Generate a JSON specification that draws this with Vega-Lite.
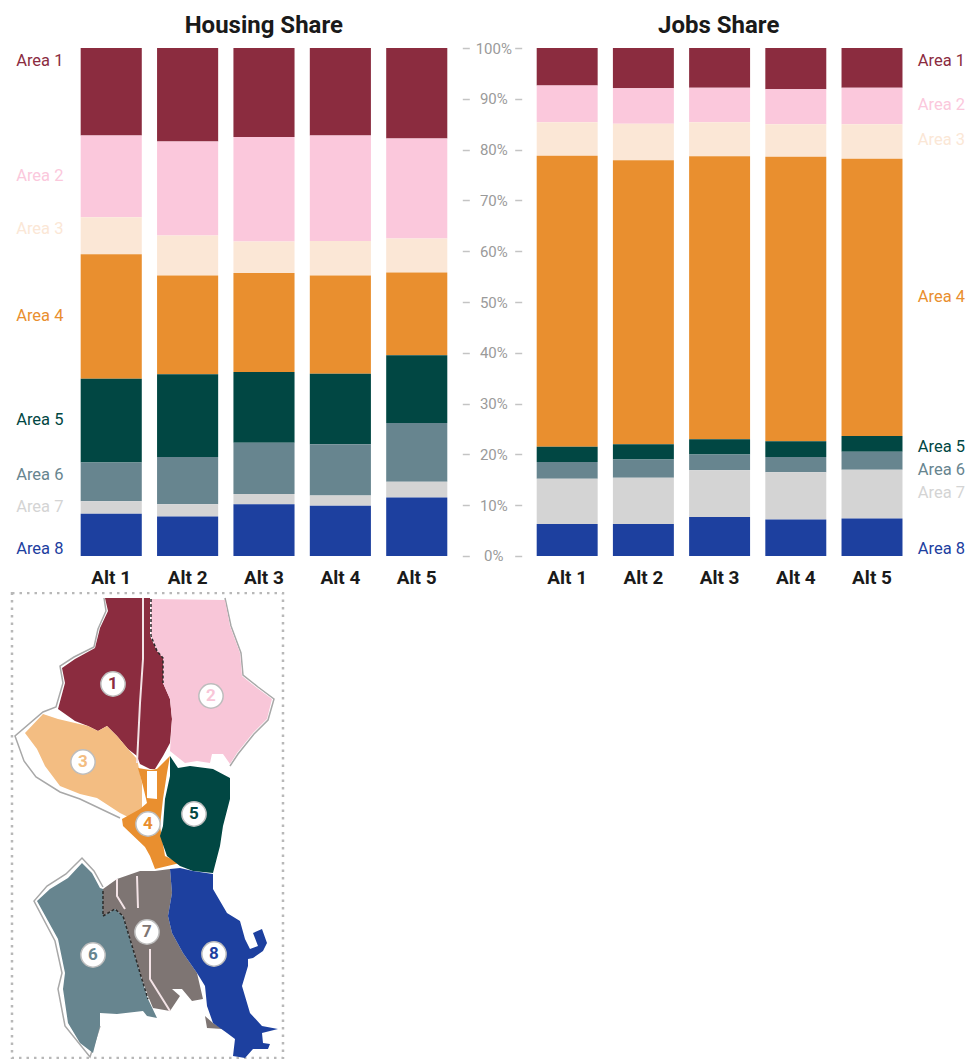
{
  "$schema": "https://vega.github.io/schema/vega-lite/v6.json",
  "background": "white",
  "padding": {"left": 4.3, "top": 13, "right": 0, "bottom": 0},
  "config": {
    "view": {"stroke": null},
    "font": "Roboto",
    "title": {"font": "Roboto", "fontSize": 24, "fontWeight": "bold", "color": "#1a1a1a"}
  },
  "datasets": {
    "housing": [
      {"alt": "Alt 1", "area": "Area 1", "share": 17.2}, {"alt": "Alt 1", "area": "Area 2", "share": 16.1}, {"alt": "Alt 1", "area": "Area 3", "share": 7.3}, {"alt": "Alt 1", "area": "Area 4", "share": 24.5}, {"alt": "Alt 1", "area": "Area 5", "share": 16.5}, {"alt": "Alt 1", "area": "Area 6", "share": 7.6}, {"alt": "Alt 1", "area": "Area 7", "share": 2.5}, {"alt": "Alt 1", "area": "Area 8", "share": 8.3},
      {"alt": "Alt 2", "area": "Area 1", "share": 18.4}, {"alt": "Alt 2", "area": "Area 2", "share": 18.5}, {"alt": "Alt 2", "area": "Area 3", "share": 7.9}, {"alt": "Alt 2", "area": "Area 4", "share": 19.4}, {"alt": "Alt 2", "area": "Area 5", "share": 16.3}, {"alt": "Alt 2", "area": "Area 6", "share": 9.3}, {"alt": "Alt 2", "area": "Area 7", "share": 2.4}, {"alt": "Alt 2", "area": "Area 8", "share": 7.8},
      {"alt": "Alt 3", "area": "Area 1", "share": 17.5}, {"alt": "Alt 3", "area": "Area 2", "share": 20.6}, {"alt": "Alt 3", "area": "Area 3", "share": 6.2}, {"alt": "Alt 3", "area": "Area 4", "share": 19.5}, {"alt": "Alt 3", "area": "Area 5", "share": 13.9}, {"alt": "Alt 3", "area": "Area 6", "share": 10.1}, {"alt": "Alt 3", "area": "Area 7", "share": 2.0}, {"alt": "Alt 3", "area": "Area 8", "share": 10.2},
      {"alt": "Alt 4", "area": "Area 1", "share": 17.2}, {"alt": "Alt 4", "area": "Area 2", "share": 20.8}, {"alt": "Alt 4", "area": "Area 3", "share": 6.8}, {"alt": "Alt 4", "area": "Area 4", "share": 19.3}, {"alt": "Alt 4", "area": "Area 5", "share": 13.9}, {"alt": "Alt 4", "area": "Area 6", "share": 10.1}, {"alt": "Alt 4", "area": "Area 7", "share": 2.0}, {"alt": "Alt 4", "area": "Area 8", "share": 9.9},
      {"alt": "Alt 5", "area": "Area 1", "share": 17.8}, {"alt": "Alt 5", "area": "Area 2", "share": 19.7}, {"alt": "Alt 5", "area": "Area 3", "share": 6.7}, {"alt": "Alt 5", "area": "Area 4", "share": 16.3}, {"alt": "Alt 5", "area": "Area 5", "share": 13.3}, {"alt": "Alt 5", "area": "Area 6", "share": 11.6}, {"alt": "Alt 5", "area": "Area 7", "share": 3.1}, {"alt": "Alt 5", "area": "Area 8", "share": 11.5}
    ],
    "jobs": [
      {"alt": "Alt 1", "area": "Area 1", "share": 7.4}, {"alt": "Alt 1", "area": "Area 2", "share": 7.2}, {"alt": "Alt 1", "area": "Area 3", "share": 6.6}, {"alt": "Alt 1", "area": "Area 4", "share": 57.3}, {"alt": "Alt 1", "area": "Area 5", "share": 3.0}, {"alt": "Alt 1", "area": "Area 6", "share": 3.3}, {"alt": "Alt 1", "area": "Area 7", "share": 8.9}, {"alt": "Alt 1", "area": "Area 8", "share": 6.3},
      {"alt": "Alt 2", "area": "Area 1", "share": 7.9}, {"alt": "Alt 2", "area": "Area 2", "share": 7.0}, {"alt": "Alt 2", "area": "Area 3", "share": 7.2}, {"alt": "Alt 2", "area": "Area 4", "share": 55.9}, {"alt": "Alt 2", "area": "Area 5", "share": 3.0}, {"alt": "Alt 2", "area": "Area 6", "share": 3.6}, {"alt": "Alt 2", "area": "Area 7", "share": 9.1}, {"alt": "Alt 2", "area": "Area 8", "share": 6.3},
      {"alt": "Alt 3", "area": "Area 1", "share": 7.8}, {"alt": "Alt 3", "area": "Area 2", "share": 6.8}, {"alt": "Alt 3", "area": "Area 3", "share": 6.7}, {"alt": "Alt 3", "area": "Area 4", "share": 55.7}, {"alt": "Alt 3", "area": "Area 5", "share": 3.0}, {"alt": "Alt 3", "area": "Area 6", "share": 3.1}, {"alt": "Alt 3", "area": "Area 7", "share": 9.2}, {"alt": "Alt 3", "area": "Area 8", "share": 7.7},
      {"alt": "Alt 4", "area": "Area 1", "share": 8.1}, {"alt": "Alt 4", "area": "Area 2", "share": 6.9}, {"alt": "Alt 4", "area": "Area 3", "share": 6.4}, {"alt": "Alt 4", "area": "Area 4", "share": 56.0}, {"alt": "Alt 4", "area": "Area 5", "share": 3.1}, {"alt": "Alt 4", "area": "Area 6", "share": 3.0}, {"alt": "Alt 4", "area": "Area 7", "share": 9.3}, {"alt": "Alt 4", "area": "Area 8", "share": 7.2},
      {"alt": "Alt 5", "area": "Area 1", "share": 7.8}, {"alt": "Alt 5", "area": "Area 2", "share": 7.2}, {"alt": "Alt 5", "area": "Area 3", "share": 6.8}, {"alt": "Alt 5", "area": "Area 4", "share": 54.6}, {"alt": "Alt 5", "area": "Area 5", "share": 3.1}, {"alt": "Alt 5", "area": "Area 6", "share": 3.5}, {"alt": "Alt 5", "area": "Area 7", "share": 9.6}, {"alt": "Alt 5", "area": "Area 8", "share": 7.4}
    ],
    "housingLabels": [
      {"slot": "Labels", "area": "Area 1", "level": 97.4}, {"slot": "Labels", "area": "Area 2", "level": 74.9}, {"slot": "Labels", "area": "Area 3", "level": 64.3}, {"slot": "Labels", "area": "Area 4", "level": 47.2}, {"slot": "Labels", "area": "Area 5", "level": 26.7}, {"slot": "Labels", "area": "Area 6", "level": 15.9}, {"slot": "Labels", "area": "Area 7", "level": 9.6}, {"slot": "Labels", "area": "Area 8", "level": 1.3}
    ],
    "jobsLabels": [
      {"slot": "Labels", "area": "Area 1", "level": 97.4}, {"slot": "Labels", "area": "Area 2", "level": 88.7}, {"slot": "Labels", "area": "Area 3", "level": 81.8}, {"slot": "Labels", "area": "Area 4", "level": 50.9}, {"slot": "Labels", "area": "Area 5", "level": 21.4}, {"slot": "Labels", "area": "Area 6", "level": 16.9}, {"slot": "Labels", "area": "Area 7", "level": 12.4}, {"slot": "Labels", "area": "Area 8", "level": 1.3}
    ],
    "frame": [
      {"type": "Feature", "region": "Frame", "geometry": {"type": "Polygon", "coordinates": [[[12, 592], [283, 592], [283, 1057], [12, 1057], [12, 592]]]}}
    ],
    "coast": [
      {"type": "Feature", "region": "North and west shore", "geometry": {"type": "LineString", "coordinates": [[104, 597], [106, 610], [98, 628], [94, 646], [74, 656], [60, 665], [63, 682], [56, 706], [43, 711], [15, 735], [24, 760], [36, 776], [60, 791], [80, 798], [120, 817]]}},
      {"type": "Feature", "region": "Southwest shore", "geometry": {"type": "LineString", "coordinates": [[103, 886], [94, 870], [82, 857], [66, 873], [47, 885], [34, 900], [55, 940], [62, 972], [58, 988], [65, 1025], [90, 1056], [100, 1025]]}},
      {"type": "Feature", "region": "East shore", "geometry": {"type": "LineString", "coordinates": [[225, 597], [231, 625], [241, 652], [243, 674], [258, 686], [274, 698], [268, 719], [254, 733], [238, 753], [230, 765]]}}
    ],
    "districts": [
      {"type": "Feature", "region": "Area 1", "geometry": {"type": "Polygon", "coordinates": [[[105, 597], [150, 597], [150, 635], [157, 650], [163, 657], [163, 682], [170, 698], [172, 718], [170, 742], [163, 755], [155, 768], [150, 768], [140, 763], [137, 755], [128, 748], [117, 735], [107, 725], [98, 730], [88, 725], [75, 720], [58, 708], [65, 682], [62, 667], [75, 658], [95, 647], [100, 627], [108, 610], [105, 597]]]}},
      {"type": "Feature", "region": "Area 2", "geometry": {"type": "Polygon", "coordinates": [[[151, 598], [225, 599], [230, 625], [240, 652], [242, 675], [257, 687], [272, 698], [267, 718], [253, 732], [237, 752], [230, 763], [223, 753], [212, 753], [210, 762], [197, 760], [185, 762], [170, 750], [172, 718], [170, 698], [163, 682], [163, 657], [157, 650], [151, 635], [151, 598]]]}},
      {"type": "Feature", "region": "Area 3", "geometry": {"type": "Polygon", "coordinates": [[[25, 732], [43, 713], [58, 718], [75, 722], [88, 725], [98, 730], [107, 725], [117, 735], [128, 748], [137, 758], [142, 782], [142, 808], [130, 817], [120, 812], [97, 797], [80, 793], [60, 785], [45, 765], [37, 748], [25, 732]]]}},
      {"type": "Feature", "region": "Area 4", "geometry": {"type": "Polygon", "coordinates": [[[138, 767], [150, 769], [157, 768], [170, 755], [167, 772], [163, 798], [160, 825], [165, 855], [180, 862], [155, 868], [150, 855], [145, 846], [123, 825], [122, 818], [140, 808], [147, 802], [143, 785], [138, 767]]]}},
      {"type": "Feature", "region": "Inlet", "geometry": {"type": "Polygon", "coordinates": [[[147, 770], [157, 770], [157, 798], [147, 797], [147, 770]]]}},
      {"type": "Feature", "region": "Area 5", "geometry": {"type": "Polygon", "coordinates": [[[170, 755], [178, 767], [190, 765], [213, 768], [230, 777], [230, 798], [223, 825], [220, 845], [213, 872], [193, 870], [180, 865], [167, 855], [160, 835], [163, 825], [165, 798], [170, 775], [170, 755]]]}},
      {"type": "Feature", "region": "Area 7", "geometry": {"type": "MultiPolygon", "coordinates": [[[[103, 888], [117, 878], [140, 870], [155, 870], [170, 868], [172, 892], [168, 915], [172, 932], [183, 952], [197, 972], [203, 998], [192, 1000], [182, 988], [172, 988], [180, 995], [170, 1010], [153, 1007], [148, 995], [140, 972], [133, 948], [123, 915], [115, 908], [103, 915], [103, 888]]], [[[205, 1015], [207, 1027], [223, 1028], [213, 1022], [205, 1015]]]]}},
      {"type": "Feature", "region": "Area 6", "geometry": {"type": "Polygon", "coordinates": [[[82, 862], [92, 872], [100, 887], [103, 888], [103, 915], [115, 908], [123, 915], [133, 948], [140, 972], [148, 998], [157, 1017], [147, 1015], [143, 1010], [117, 1013], [100, 1012], [100, 1025], [93, 1052], [80, 1042], [68, 1022], [63, 988], [65, 972], [58, 938], [37, 900], [50, 888], [68, 877], [82, 862]]]}},
      {"type": "Feature", "region": "Area 8", "geometry": {"type": "Polygon", "coordinates": [[[170, 868], [180, 867], [193, 870], [213, 873], [213, 888], [227, 912], [240, 920], [245, 938], [250, 948], [258, 945], [253, 932], [262, 928], [267, 942], [263, 950], [253, 957], [248, 958], [248, 965], [242, 985], [250, 1012], [262, 1025], [278, 1028], [262, 1032], [263, 1042], [270, 1043], [268, 1048], [253, 1048], [245, 1057], [233, 1055], [235, 1038], [227, 1032], [213, 1022], [207, 1005], [205, 985], [197, 972], [183, 952], [172, 932], [168, 915], [172, 892], [170, 868]]]}}
    ],
    "roads": [
      {"type": "Feature", "region": "Highway north", "geometry": {"type": "LineString", "coordinates": [[143, 597], [143, 658], [140, 702], [137, 762]]}},
      {"type": "Feature", "region": "Highway south", "geometry": {"type": "LineString", "coordinates": [[150, 948], [150, 978], [170, 1010]]}},
      {"type": "Feature", "region": "Road west", "geometry": {"type": "LineString", "coordinates": [[117, 878], [117, 895], [125, 908]]}},
      {"type": "Feature", "region": "Road central", "geometry": {"type": "LineString", "coordinates": [[137, 875], [138, 907]]}}
    ],
    "boundaries": [
      {"type": "Feature", "region": "Area 6 and 7 line", "geometry": {"type": "LineString", "coordinates": [[103, 890], [103, 915], [115, 908], [123, 915], [133, 948], [140, 972], [148, 998]]}},
      {"type": "Feature", "region": "Area 1 and 2 line", "geometry": {"type": "LineString", "coordinates": [[151, 598], [151, 635], [157, 650], [163, 657], [163, 682]]}}
    ],
    "markers": [
      {"region": "Area 1", "digit": "1", "east": 113, "south": 683},
      {"region": "Area 2", "digit": "2", "east": 211, "south": 695},
      {"region": "Area 3", "digit": "3", "east": 83, "south": 761},
      {"region": "Area 4", "digit": "4", "east": 148, "south": 823},
      {"region": "Area 5", "digit": "5", "east": 194, "south": 813},
      {"region": "Area 6", "digit": "6", "east": 93, "south": 954},
      {"region": "Area 7", "digit": "7", "east": 147, "south": 931},
      {"region": "Area 8", "digit": "8", "east": 214, "south": 953}
    ]
  },
  "vconcat": [
    {
      "hconcat": [
        {
          "title": {"text": "Housing Share", "dx": 38, "offset": 3.5},
          "width": 443,
          "height": 508,
          "layer": [
            {
              "data": {"name": "housing"},
              "mark": {"type": "bar"},
              "encoding": {
                "x": {
                  "field": "alt", "type": "nominal",
                  "scale": {"domain": ["Labels", "Alt 1", "Alt 2", "Alt 3", "Alt 4", "Alt 5"], "paddingInner": 0.2, "paddingOuter": 0},
                  "axis": {"title": null, "values": ["Alt 1", "Alt 2", "Alt 3", "Alt 4", "Alt 5"], "domain": false, "ticks": false, "labelAngle": 0, "labelFontSize": 19, "labelFontWeight": "bold", "labelColor": "#1a1a1a", "labelPadding": 13}
                },
                "y": {
                  "field": "share", "type": "quantitative", "stack": "zero",
                  "scale": {"domain": [0, 100], "nice": false},
                  "axis": {"orient": "right", "title": null, "offset": 15, "domain": false, "grid": false, "values": [0, 10, 20, 30, 40, 50, 60, 70, 80, 90, 100], "tickSize": 7, "tickColor": "#c4c4c4", "tickWidth": 1.5, "labelExpr": "datum.value + '%'", "labelColor": "#9a9a9a", "labelFontSize": 15, "labelAlign": "center", "labelPadding": 24, "labelBaseline": "middle"}
                },
                "order": {"field": "area", "sort": "descending"},
                "color": {
                  "field": "area", "type": "nominal", "legend": null,
                  "scale": {"domain": ["Area 1", "Area 2", "Area 3", "Area 4", "Area 5", "Area 6", "Area 7", "Area 8"], "range": ["#8b2c3f", "#fbc8dc", "#fbe7d6", "#e98f2f", "#014743", "#67858f", "#d4d4d4", "#1d409f"]}
                }
              }
            },
            {
              "data": {"name": "housingLabels"},
              "mark": {"type": "text", "align": "right", "baseline": "middle", "dx": -2, "fontSize": 16.5},
              "encoding": {
                "x": {"field": "slot", "type": "nominal", "bandPosition": 1},
                "y": {"field": "level", "type": "quantitative", "stack": null},
                "text": {"field": "area"},
                "color": {"field": "area", "type": "nominal", "legend": null}
              }
            }
          ]
        },
        {
          "title": {"text": "Jobs Share", "dx": -36, "offset": 9.5},
          "width": 436,
          "height": 508,
          "layer": [
            {
              "data": {"name": "jobs"},
              "mark": {"type": "bar"},
              "encoding": {
                "x": {
                  "field": "alt", "type": "nominal",
                  "scale": {"domain": ["Alt 1", "Alt 2", "Alt 3", "Alt 4", "Alt 5", "Labels"], "paddingInner": 0.2, "paddingOuter": 0, "range": [0, 442]},
                  "axis": {"title": null, "values": ["Alt 1", "Alt 2", "Alt 3", "Alt 4", "Alt 5"], "domain": false, "ticks": false, "labelAngle": 0, "labelFontSize": 19, "labelFontWeight": "bold", "labelColor": "#1a1a1a", "labelPadding": 13}
                },
                "y": {
                  "field": "share", "type": "quantitative", "stack": "zero",
                  "scale": {"domain": [0, 100], "nice": false},
                  "axis": {"orient": "left", "title": null, "offset": 15, "domain": false, "grid": false, "labels": false, "values": [0, 10, 20, 30, 40, 50, 60, 70, 80, 90, 100], "tickSize": 7, "tickColor": "#c4c4c4", "tickWidth": 1.5}
                },
                "order": {"field": "area", "sort": "descending"},
                "color": {
                  "field": "area", "type": "nominal", "legend": null,
                  "scale": {"domain": ["Area 1", "Area 2", "Area 3", "Area 4", "Area 5", "Area 6", "Area 7", "Area 8"], "range": ["#8b2c3f", "#fbc8dc", "#fbe7d6", "#e98f2f", "#014743", "#67858f", "#d4d4d4", "#1d409f"]}
                }
              }
            },
            {
              "data": {"name": "jobsLabels"},
              "mark": {"type": "text", "align": "left", "baseline": "middle", "fontSize": 16.5},
              "encoding": {
                "x": {"field": "slot", "type": "nominal", "bandPosition": 0},
                "y": {"field": "level", "type": "quantitative", "stack": null},
                "text": {"field": "area"},
                "color": {"field": "area", "type": "nominal", "legend": null}
              }
            }
          ]
        }
      ],
      "spacing": 89.4,
      "bounds": "flush",
      "resolve": {"scale": {"color": "independent"}}
    },
    {
      "width": 285,
      "height": 468,
      "projection": {"type": "identity", "scale": 1, "translate": [-4.3, -591]},
      "layer": [
        {
          "data": {"name": "frame"},
          "mark": {"type": "geoshape", "filled": false, "stroke": "#b8b8b8", "strokeWidth": 2.5, "strokeDash": [2.5, 5]}
        },
        {
          "data": {"name": "coast"},
          "mark": {"type": "geoshape", "filled": false, "stroke": "#a8a8a8", "strokeWidth": 1.5}
        },
        {
          "data": {"name": "districts"},
          "mark": {"type": "geoshape", "stroke": null},
          "encoding": {
            "color": {
              "field": "region", "type": "nominal", "legend": null,
              "scale": {"domain": ["Area 1", "Area 2", "Area 3", "Area 4", "Area 5", "Area 6", "Area 7", "Area 8", "Inlet"], "range": ["#8b2c3f", "#f8c6d8", "#f3bd82", "#e98f2f", "#014743", "#67858f", "#7e7573", "#1d409f", "#ffffff"]}
            }
          }
        },
        {
          "data": {"name": "roads"},
          "mark": {"type": "geoshape", "filled": false, "stroke": "#f3e3e6", "strokeWidth": 2}
        },
        {
          "data": {"name": "boundaries"},
          "mark": {"type": "geoshape", "filled": false, "stroke": "#2b2b2b", "strokeWidth": 1.5, "strokeDash": [3, 2]}
        },
        {
          "data": {"name": "markers"},
          "mark": {"type": "circle", "size": 590, "fill": "white", "opacity": 1, "stroke": "#bdbdbd", "strokeWidth": 1.5},
          "encoding": {
            "longitude": {"field": "east", "type": "quantitative"},
            "latitude": {"field": "south", "type": "quantitative"}
          }
        },
        {
          "data": {"name": "markers"},
          "mark": {"type": "text", "fontSize": 17, "fontWeight": "bold", "align": "center", "baseline": "middle"},
          "encoding": {
            "longitude": {"field": "east", "type": "quantitative"},
            "latitude": {"field": "south", "type": "quantitative"},
            "text": {"field": "digit"},
            "color": {"field": "region", "type": "nominal", "legend": null}
          }
        }
      ]
    }
  ],
  "spacing": 4,
  "resolve": {"scale": {"color": "independent"}}
}
